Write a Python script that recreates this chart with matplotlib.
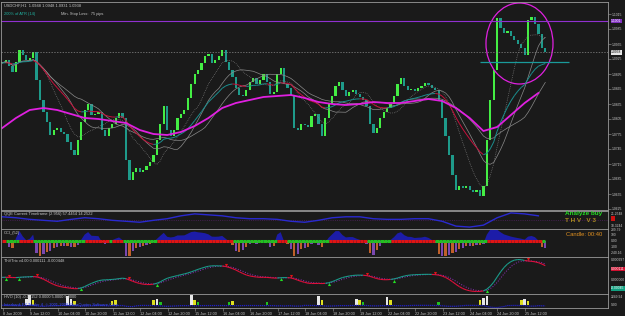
import numpy as np
import pandas as pd
import matplotlib
matplotlib.use("Agg")
import matplotlib.pyplot as plt
import matplotlib.transforms as mtransforms
from matplotlib.patches import Ellipse
from matplotlib.collections import LineCollection

# USDCHF H1, closes sampled every 2 hours (8 Jun - 25 Jun 2009)
closes = [
    1.0917, 1.0923, 1.0911, 1.0899, 1.0919, 1.0943, 1.0933, 1.0923, 1.0927, 1.0939,
    1.0883, 1.0843, 1.0819, 1.0799, 1.0773, 1.0783, 1.0787, 1.0779, 1.0775, 1.0759,
    1.0743, 1.0733, 1.0763, 1.0799, 1.0823, 1.0835, 1.0813, 1.0815, 1.0819, 1.0783,
    1.0771, 1.0787, 1.0795, 1.0807, 1.0817, 1.0807, 1.0723, 1.0683, 1.0699, 1.0707,
    1.0699, 1.0703, 1.0711, 1.0719, 1.0733, 1.0763, 1.0795, 1.0831, 1.0783, 1.0771,
    1.0783, 1.0807, 1.0815, 1.0823, 1.0847, 1.0875, 1.0895, 1.0903, 1.0917, 1.0931,
    1.0935, 1.0917, 1.0923, 1.0931, 1.0943, 1.0919, 1.0903, 1.0889, 1.0867, 1.0853,
    1.0851, 1.0863, 1.0879, 1.0887, 1.0875, 1.0883, 1.0895, 1.0879, 1.0855, 1.0859,
    1.0895, 1.0907, 1.0875, 1.0867, 1.0853, 1.0787, 1.0783, 1.0795, 1.0793, 1.0789,
    1.0811, 1.0815, 1.0795, 1.0771, 1.0807, 1.0835, 1.0851, 1.0871, 1.0879, 1.0863,
    1.0851, 1.0859, 1.0863, 1.0855, 1.0849, 1.0843, 1.0831, 1.0795, 1.0777, 1.0787,
    1.0807, 1.0819, 1.0827, 1.0835, 1.0851, 1.0875, 1.0887, 1.0871, 1.0863, 1.0865,
    1.0861, 1.0867, 1.0871, 1.0877, 1.0873, 1.0867, 1.0863, 1.0843, 1.0807, 1.0771,
    1.0733, 1.0693, 1.0663, 1.0671, 1.0667, 1.0671, 1.0663, 1.0659, 1.0663, 1.0651,
    1.0671, 1.0763, 1.0843, 1.0903, 1.1007, 1.0987, 1.0977, 1.0981, 1.0971, 1.0963,
    1.0955, 1.0947, 1.0933, 1.1003, 1.1009, 1.0995, 1.0975, 1.0947, 1.0938,
]

# slow MA (magenta), one value every 4th sample
slow_ma = [
    1.0787, 1.0807, 1.0823, 1.0827, 1.0823, 1.0815, 1.0807, 1.0805, 1.0801, 1.0797,
    1.0783, 1.0775, 1.0773, 1.0779, 1.0791, 1.0807, 1.0827, 1.0837, 1.0843, 1.0849,
    1.0851, 1.0853, 1.0847, 1.0839, 1.0835, 1.0833, 1.0835, 1.0839, 1.0837, 1.0837,
    1.0841, 1.0845, 1.0841, 1.0827, 1.0807, 1.0781, 1.0789, 1.0813, 1.0837, 1.0857,
]

# QQE line, one value every 4th sample
qqe = [
    60, 57, 52, 49, 46, 52, 57, 54, 49, 46,
    43, 49, 54, 63, 69, 66, 63, 57, 54, 54,
    52, 46, 43, 49, 57, 60, 60, 54, 52, 52,
    54, 54, 46, 31, 28, 34, 57, 72, 69, 63,
]

# HVO spikes: sample index -> value
hvo_spikes = {
    7: 5, 8: 9, 9: 4, 19: 8, 20: 5, 21: 3, 32: 3, 33: 4, 44: 4, 45: 5, 46: 2,
    55: 9, 56: 4, 57: 2, 66: 2, 67: 3, 77: 2, 92: 8, 93: 4, 103: 5, 104: 4,
    105: 2, 112: 7, 113: 4, 127: 2, 139: 4, 140: 6, 141: 8, 151: 4, 152: 5, 153: 3,
}

resistance = 1.1001
support = 1.0919
price_ticks = [1.1015, 1.0985, 1.0955, 1.0925, 1.0895, 1.0865, 1.0835, 1.0805,
               1.0775, 1.0745, 1.0715, 1.0685, 1.0655, 1.0625]
time_labels = ["8 Jun 2009", "9 Jun 12:00", "10 Jun 04:00", "10 Jun 20:00",
               "11 Jun 12:00", "12 Jun 04:00", "12 Jun 20:00", "15 Jun 12:00",
               "16 Jun 04:00", "16 Jun 20:00", "17 Jun 12:00", "18 Jun 04:00",
               "18 Jun 20:00", "19 Jun 12:00", "22 Jun 04:00", "22 Jun 20:00",
               "23 Jun 12:00", "24 Jun 04:00", "24 Jun 20:00", "25 Jun 12:00"]

plt.rcParams["font.family"] = ["Liberation Sans", "DejaVu Sans"]

BG = "#1a1a1a"
FRAME = "#9a9a9a"
TXT = "#c8c8c8"
FS = 2.9
W, H = 625, 316

fig = plt.figure(figsize=(W / 100, H / 100), dpi=100, facecolor=BG)


def panel(top, bottom):
    ax = fig.add_axes([0.5 / W, 1 - bottom / H, 607.5 / W, (bottom - top) / H])
    ax.set_facecolor(BG)
    for s in ax.spines.values():
        s.set_color(FRAME)
        s.set_linewidth(0.6)
    ax.set_xticks([])
    ax.set_yticks([])
    ax.set_xlim(-1, 352.5)
    return ax


def right_label(ax, y, text, fc=None, tc=TXT):
    tr = mtransforms.blended_transform_factory(ax.transAxes, ax.transData)
    kw = {}
    if fc:
        kw["bbox"] = dict(fc=fc, ec="none", pad=0.25)
    ax.text(1.005, y, text, transform=tr, fontsize=2.4, color=tc, va="center",
            ha="left", clip_on=False, **kw)


def colored_line(ax, x, y, cond, c_true, c_false, lw):
    pts = np.column_stack([x, y])
    segs = np.stack([pts[:-1], pts[1:]], axis=1)
    cols = [c_true if c else c_false for c in cond[1:]]
    ax.add_collection(LineCollection(segs, colors=cols, linewidths=lw))


c = np.array(closes)
t = np.arange(len(c)) * 2.0
s = pd.Series(c)

# ---- main chart ----
ax = panel(2, 210)
ax.set_ylim(1.0623, 1.1039)

for win, ls in [(10, ":"), (16, "-"), (24, "-")]:
    ax.plot(t, s.rolling(win, min_periods=1).mean(), color="#8a8a8a", lw=0.5, ls=ls)
ma22 = s.ewm(span=22, adjust=False).mean().values
colored_line(ax, t, ma22, np.r_[True, np.diff(ma22) >= 0], "#1a8f8f", "#c8103c", 0.7)

o = np.r_[c[0], c[:-1]]
up = c >= o
body = np.maximum(np.abs(c - o), 0.0002)
ax.bar(t[up], body[up], bottom=np.minimum(o, c)[up], width=1.3, color="#44ee44", lw=0)
ax.bar(t[~up], body[~up], bottom=np.minimum(o, c)[~up], width=1.3, color="#1e9a8a", lw=0)

ax.plot(t[::4], slow_ma, color="#e020e0", lw=1.3)

ax.axhline(resistance, color="#9030d0", lw=0.8)
ax.axhline(c[-1], color="#8a8a8a", lw=0.5, ls=(0, (2, 2)))
ax.hlines(support, t[139], t[-1] + 14, color="#1a9a9a", lw=0.9)

seg = c[143:]
ax.add_patch(Ellipse(((t[143] + t[-1]) / 2, (seg.max() + seg.min()) / 2),
                     t[-1] - t[143] + 9, seg.max() - seg.min() + 0.0056,
                     fill=False, ec="#e020e0", lw=0.9))

ax.yaxis.tick_right()
ax.set_yticks(price_ticks)
ax.set_yticklabels(["%.4f" % v for v in price_ticks])
ax.tick_params(axis="y", length=2, width=0.4, colors=FRAME, labelsize=2.4, pad=1,
               labelcolor=TXT)
right_label(ax, resistance, "%.4f" % resistance, fc="#8030c0", tc="white")
right_label(ax, c[-1], "%.4f" % c[-1], fc="#e8e8e8", tc="black")

ax.text(0.005, 0.985, "USDCHF,H1  1.0948 1.0948 1.0931 1.0938", transform=ax.transAxes,
        fontsize=FS, color=TXT, va="center")
ax.text(0.005, 0.94, "200% of ATR (14)", transform=ax.transAxes,
        fontsize=FS, color="#20b0a0", va="center")
ax.text(0.1, 0.94, "Min. Stop Loss:  75 pips", transform=ax.transAxes,
        fontsize=FS, color=TXT, va="center")

# ---- QQE ----
ax1 = panel(211, 229)
ax1.set_ylim(22, 78)
ax1.axhline(50, color="#502060", lw=0.6, ls=":")
ax1.plot(t[::4], qqe, color="#2a2ad0", lw=1.0)
ax1.text(0.005, 0.82, "QQE Current Timeframe (2.956) 57.4454 14.2522", transform=ax1.transAxes,
         fontsize=FS, color=TXT, va="center")
ax1.text(0.99, 0.85, "Analyze buy", transform=ax1.transAxes, fontsize=4.6, color="#22e022",
         fontweight="bold", ha="right", va="center")
ax1.text(0.98, 0.45, "T H V   V 3", transform=ax1.transAxes, fontsize=4.6, color="#a88a20",
         fontweight="bold", ha="right", va="center")
right_label(ax1, 70, "21.2548")
right_label(ax1, 55, "    ", fc="#d01010")
right_label(ax1, 30, "18.3244")

# ---- CCI ----
ax2 = panel(229, 257)
ax2.set_ylim(-260, 200)
cci = ((s - s.rolling(14, min_periods=3).mean())
       / (0.015 * s.rolling(14, min_periods=3).apply(lambda x: np.mean(np.abs(x - x.mean())), raw=True)))
cci = cci.fillna(0).clip(-250, 190).values
ax2.fill_between(t, 0, cci, where=cci > 0, color="#1c1ca8", lw=0, interpolate=True)
neg = np.where(cci < 0)[0]
ax2.bar(t[neg], cci[neg], width=1.3, lw=0,
        color=["#c0602a" if i % 2 else "#7a48b0" for i in neg])
zero = np.zeros_like(cci)
trend = pd.Series(cci).rolling(4, min_periods=1).mean().values
colored_line(ax2, t, zero, trend < 0, "#22c022", "#e01414", 2.2)
ax2.text(0.005, 0.85, "CCI_(52)", transform=ax2.transAxes, fontsize=FS, color=TXT, va="center")
ax2.text(0.99, 0.82, "Candle: 00:40", transform=ax2.transAxes, fontsize=4.2, color="#e09020",
         ha="right", va="center")
for v, lab in [(180, "289.79"), (100, "100"), (0, "0.00"), (-100, "-100"), (-200, "-240.16")]:
    right_label(ax2, v, lab)

# ---- ThVTrix ----
ax3 = panel(257, 294)
e3 = s.ewm(span=9, adjust=False).mean().ewm(span=9, adjust=False).mean().ewm(span=9, adjust=False).mean()
trix = e3.pct_change().fillna(0).values
sig = pd.Series(trix).ewm(span=4, adjust=False).mean().values
ax3.plot(t, sig, color="#9030c0", lw=0.7, ls=":")
colored_line(ax3, t, trix, trix >= sig, "#1a9a8a", "#e0103a", 0.8)
rng = trix.max() - trix.min()
ax3.set_ylim(trix.min() - 0.08 * rng, trix.max() + 0.08 * rng)
cross = np.diff(np.sign(trix - sig))
cu = np.where(cross > 0)[0] + 1
cd = np.where(cross < 0)[0] + 1
ax3.scatter(t[cu], trix[cu] - 0.05 * rng, marker="^", s=5, color="#22e022", lw=0)
ax3.scatter(t[cd], trix[cd] + 0.05 * rng, marker="v", s=5, color="#e01414", lw=0)
ax3.text(0.005, 0.88, "ThVTrix v4.00 0.000111 -0.000448", transform=ax3.transAxes,
         fontsize=FS, color=TXT, va="center")
right_label(ax3, trix.max(), "0.000297")
right_label(ax3, trix.max() - 0.3 * rng, "0.000111", fc="#d01030", tc="white")
right_label(ax3, trix.min() + 0.35 * rng, "0.000000")
right_label(ax3, trix.min() + 0.1 * rng, "-0.00045", fc="#10a080", tc="white")

# ---- HVO ----
ax4 = panel(294, 308)
ax4.set_ylim(-3.2, 10)
d = s.diff().abs().rolling(3, min_periods=1).mean().fillna(0).values
ax4.plot(t, -0.6 - 2.2 * d / d.max(), color="#2020c0", lw=0.9, ls=(0, (1, 0.6)))
hk = np.array(sorted(hvo_spikes))
hv = np.array([hvo_spikes[k] for k in hk])
hcol = ["#e8e8e8" if v >= 5 else ("#e0e020" if v >= 3 else "#20c020") for v in hv]
ax4.bar(t[hk], hv, width=1.5, color=hcol, lw=0)
ax4.text(0.005, 0.8, "HVO (10) -0.00152 0.0000 5.0000 5.0000", transform=ax4.transAxes,
         fontsize=FS, color=TXT, va="center")
ax4.text(0.005, 0.22, "Interbank FX Trader 4, \u00a9 2001-2009 MetaQuotes Software Corp.",
         transform=ax4.transAxes, fontsize=FS, color="#3a4aff", va="center")
right_label(ax4, 7.5, "2249.94")
right_label(ax4, 0, "9.00")

tick_pos = [0.2 + 16 * j for j in range(len(time_labels))]
ax4.set_xticks(tick_pos)
ax4.set_xticklabels(time_labels)
ax4.tick_params(axis="x", length=2, width=0.4, colors=FRAME, labelsize=2.7, pad=1,
                labelcolor=TXT)
for lbl in ax4.get_xticklabels():
    lbl.set_ha("left")

fig.savefig("out.png", dpi=100, facecolor=BG)
